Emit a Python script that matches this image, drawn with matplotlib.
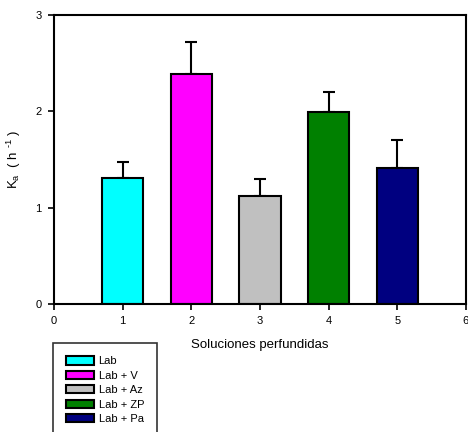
import matplotlib.pyplot as plt

plt.rcParams['font.family'] = ['Liberation Sans', 'DejaVu Sans']

positions = [1, 2, 3, 4, 5]
labels = ["Lab", "Lab + V", "Lab + Az", "Lab + ZP", "Lab + Pa"]
values = [1.31, 2.39, 1.12, 1.99, 1.41]
errors = [0.16, 0.33, 0.18, 0.21, 0.29]
colors = ["#00ffff", "#ff00ff", "#c0c0c0", "#008000", "#000080"]

fig = plt.figure(figsize=(4.68, 4.32), dpi=100)
ax = fig.add_axes([54 / 468, 1 - 304 / 432, 412 / 468, 289 / 432])

bars = []
for x, v, e, c, lab in zip(positions, values, errors, colors, labels):
    b = ax.bar(x, v, width=0.6, color=c, edgecolor="black", linewidth=1.5,
               label=lab, zorder=2)
    ax.errorbar(x, v, yerr=[[0], [e]], fmt="none", ecolor="black",
                elinewidth=1.5, capsize=4, capthick=1.5, zorder=1)
    bars.append(b)

ax.set_xlim(0, 6)
ax.set_ylim(0, 3)
ax.set_xticks(range(7))
ax.set_yticks([0, 1, 2, 3])
ax.tick_params(direction="out", length=4, width=1.2, labelsize=8, pad=5)
for s in ax.spines.values():
    s.set_linewidth(1.5)

ax.set_xlabel("Soluciones perfundidas", fontsize=9.5, labelpad=9)
ax.set_ylabel(r"K$_\mathregular{a}$  ( h $^\mathregular{‐1}$ )", fontsize=9.5,
              labelpad=9)

leg = fig.legend(handles=bars, labels=labels, loc="upper left",
                 bbox_to_anchor=(53 / 468, 1 - 343 / 432), borderaxespad=0,
                 fontsize=8, frameon=True, fancybox=False, edgecolor="black",
                 handlelength=2.45, handleheight=0.75, handletextpad=0.45,
                 labelspacing=0.4, borderpad=1.2)
leg.get_frame().set_linewidth(1.2)

fig.savefig("out.png", dpi=100)
